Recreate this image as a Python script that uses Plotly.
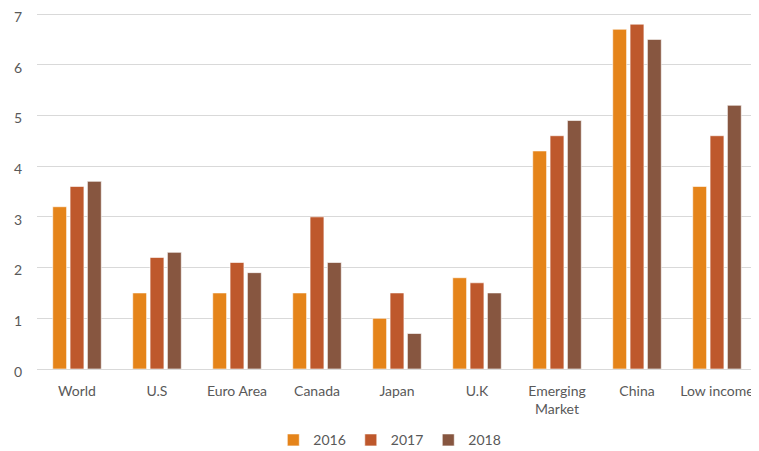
import plotly.graph_objects as go

categories = ["World", "U.S", "Euro Area", "Canada", "Japan", "U.K", "Emerging<br>Market", "China", "Low income"]
years = ["2016", "2017", "2018"]
v2016 = [3.2, 1.5, 1.5, 1.5, 1.0, 1.8, 4.3, 6.7, 3.6]
v2017 = [3.6, 2.2, 2.1, 3.0, 1.5, 1.7, 4.6, 6.8, 4.6]
v2018 = [3.7, 2.3, 1.9, 2.1, 0.7, 1.5, 4.9, 6.5, 5.2]
y_ticks = [0, 1, 2, 3, 4, 5, 6, 7]
colors = ["#E5841A", "#BE582C", "#875640"]

fig = go.Figure()
for name, vals, col in zip(years, [v2016, v2017, v2018], colors):
    fig.add_trace(go.Bar(
        x=categories, y=vals, name=name,
        marker=dict(color=col, line=dict(color="rgba(255,255,255,0.6)", width=1)),
    ))

font_family = "Lato, 'Open Sans', sans-serif"
fig.update_layout(
    width=751, height=443,
    margin=dict(l=29, r=2, t=4, b=82, autoexpand=False),
    plot_bgcolor="white", paper_bgcolor="white",
    barmode="group", bargap=0.35, bargroupgap=0.2,
    font=dict(family=font_family, size=14, color="#595959"),
    showlegend=True,
    legend=dict(orientation="h", x=0.49, xanchor="center", y=-0.155, yanchor="top",
                font=dict(size=14, color="#595959"), traceorder="normal",
                itemwidth=30),
    yaxis=dict(range=[0, 7.04], tickmode="array", tickvals=y_ticks,
               showgrid=True, gridcolor="#D9D9D9", gridwidth=1,
               zeroline=False, showline=False, ticks="", ticklabelstandoff=14,
               ticklabeloverflow="allow", ticklabelshift=3,
               automargin=False, tickfont=dict(size=14, color="#595959")),
    xaxis=dict(showline=True, linecolor="#D9D9D9", linewidth=1, ticks="",
               ticklabelstandoff=9, ticklabeloverflow="allow",
               automargin=False, tickfont=dict(size=14, color="#595959")),
)

fig.write_html("out.html")
